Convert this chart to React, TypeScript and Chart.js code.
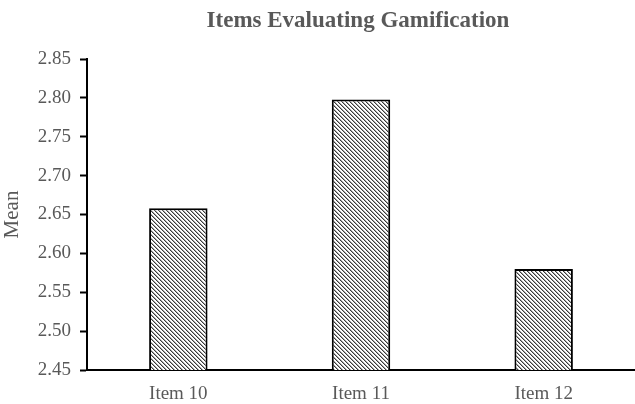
import React, { useEffect, useRef } from "react";
import { Chart, registerables } from "chart.js";

Chart.register(...registerables);

const categories = ["Item 10", "Item 11", "Item 12"];
const meanValues = [2.658, 2.798, 2.58];
const yMin = 2.45;
const yMax = 2.85;
const yStep = 0.05;
const titleText = "Items Evaluating Gamification";
const yTitle = "Mean";

function makePattern(): CanvasPattern | string {
  const c = document.createElement("canvas");
  c.width = 4;
  c.height = 4;
  const ctx = c.getContext("2d");
  if (!ctx) return "#888";
  ctx.fillStyle = "#ffffff";
  ctx.fillRect(0, 0, 4, 4);
  for (let y = 0; y < 4; y++) {
    for (let x = 0; x < 4; x++) {
      const d = (((x - y) % 4) + 4) % 4;
      if (d === 0) {
        ctx.fillStyle = "#3a3a3a";
        ctx.fillRect(x, y, 1, 1);
      } else if (d === 1) {
        ctx.fillStyle = "#a8a8a8";
        ctx.fillRect(x, y, 1, 1);
      }
    }
  }
  const p = ctx.createPattern(c, "repeat");
  return p || "#888";
}

const titlePlugin = {
  id: "centerTitle",
  afterDraw(chart: any) {
    const { ctx, chartArea } = chart;
    ctx.save();
    ctx.font = "bold 23px 'Liberation Serif', 'Times New Roman', serif";
    ctx.fillStyle = "#595959";
    ctx.textAlign = "center";
    ctx.textBaseline = "middle";
    ctx.fillText(titleText, (chartArea.left + chartArea.right) / 2 - 3, 21);
    ctx.restore();
  },
};

export default function App() {
  const ref = useRef<HTMLCanvasElement | null>(null);
  useEffect(() => {
    if (!ref.current) return;
    const pattern = makePattern();
    const chart = new Chart(ref.current, {
      type: "bar",
      data: {
        labels: categories,
        datasets: [
          {
            data: meanValues,
            backgroundColor: pattern as any,
            borderColor: "#000000",
            borderWidth: 2,
            borderSkipped: false,
            categoryPercentage: 1,
            barPercentage: 0.32,
          },
        ],
      },
      options: {
        responsive: false,
        animation: false,
        layout: { padding: { top: 59, right: 0, left: 0, bottom: 0 } },
        plugins: {
          legend: { display: false },
          title: { display: false },
          tooltip: { enabled: false },
        },
        scales: {
          x: {
            grid: { display: false, drawTicks: false },
            border: { color: "#000000", width: 2 },
            ticks: {
              color: "#595959",
              padding: 13,
              font: { family: "'Liberation Serif', 'Times New Roman', serif", size: 19 },
            },
            afterFit(scale: any) {
              scale.height = 34;
            },
          },
          y: {
            min: yMin,
            max: yMax,
            grid: {
              display: true,
              drawOnChartArea: false,
              drawTicks: true,
              tickLength: 7,
              tickWidth: 2,
              tickColor: "#000000",
            },
            border: { color: "#000000", width: 2 },
            ticks: {
              stepSize: yStep,
              color: "#595959",
              padding: 9,
              font: { family: "'Liberation Serif', 'Times New Roman', serif", size: 19 },
              callback: (v: any) => Number(v).toFixed(2),
            },
            title: {
              display: true,
              text: yTitle,
              color: "#595959",
              padding: { top: 0, bottom: 0 },
              font: { family: "'Liberation Serif', 'Times New Roman', serif", size: 21 },
            },
            afterFit(scale: any) {
              scale.width = 87;
            },
          },
        },
      },
      plugins: [titlePlugin],
    });
    return () => chart.destroy();
  }, []);
  return (
    <div style={{ position: "fixed", left: 0, top: 0, width: 635, height: 404, background: "#fff" }}>
      <canvas ref={ref} width={635} height={404} />
    </div>
  );
}
